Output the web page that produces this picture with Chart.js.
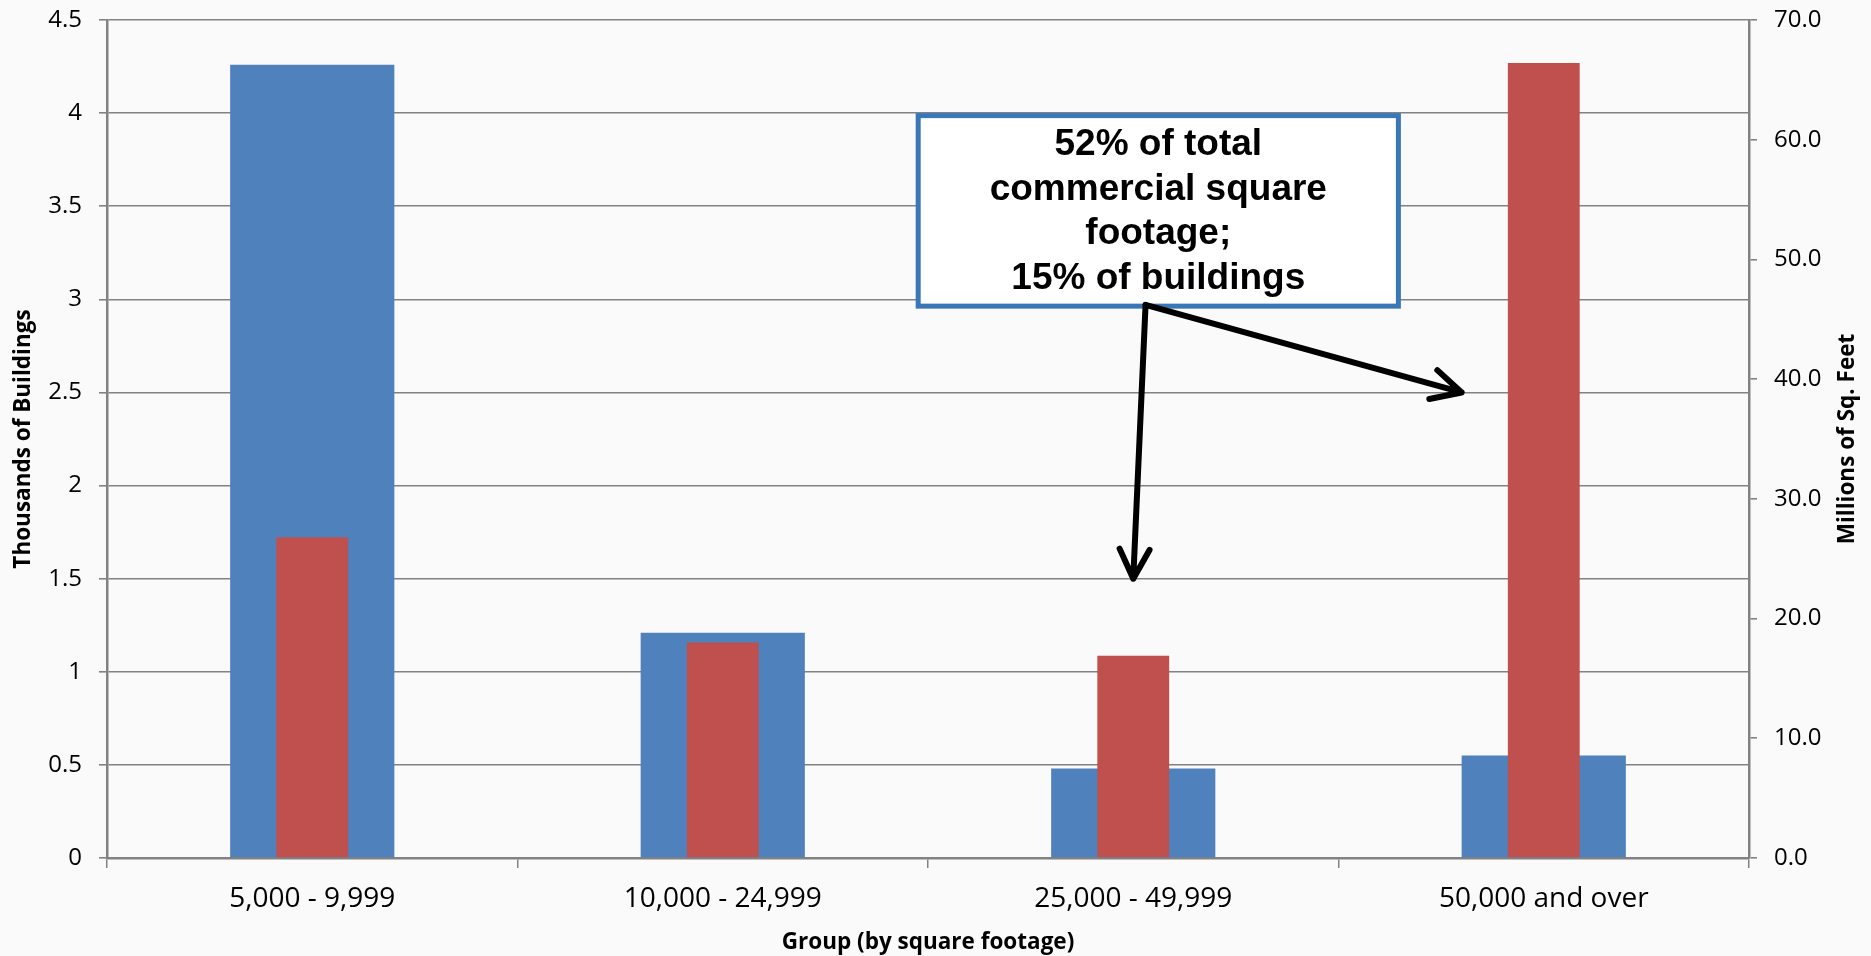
<!DOCTYPE html>
<html>
<head>
<meta charset="utf-8">
<title>Commercial buildings by size group</title>
<script src="https://cdn.jsdelivr.net/npm/chart.js@4.4.1/dist/chart.umd.min.js"></script>
<style>
  html, body { margin: 0; padding: 0; background: #fafafa; }
  canvas { display: block; }
</style>
</head>
<body>
<canvas id="sizeChart" width="1871" height="956"></canvas>
<script>
// Commercial buildings grouped by floor area
const groups = ['5,000 - 9,999', '10,000 - 24,999', '25,000 - 49,999', '50,000 and over'];
const buildings = [4.26, 1.21, 0.48, 0.55];   // thousands of buildings (left axis)
const floorArea = [26.8, 18.0, 16.9, 66.4];   // millions of sq. ft (right axis)

const leftMax = 4.5, leftStep = 0.5;
const rightMax = 70, rightStep = 10;

const calloutLines = ['52% of total', 'commercial square', 'footage;', '15% of buildings'];

// callout placement in category-index / left-axis units
const calloutBox = { x0: 1.47, x1: 2.652, yTop: 4.0, yBottom: 2.95 };
const arrowFrom = { x: 2.03, y: 2.97 };
const arrowTips = [{ x: 2.0, y: 1.5 }, { x: 2.8, y: 2.5 }];

const gridGrey = '#828282';
const tickFont = { family: 'Open Sans', size: 24 };
const titleFont = { family: 'Open Sans', size: 22.5, weight: 'bold' };

// fixed axis widths, and no extra room for the end tick labels
function fixWidth(w) {
    return scale => {
        scale.width = w;
        scale.paddingTop = 0;
        scale.paddingBottom = 0;
    };
}

function drawArrow(ctx, x0, y0, x1, y1) {
    const ang = Math.atan2(y1 - y0, x1 - x0);
    const len = 33, spread = 27 * Math.PI / 180;
    ctx.beginPath();
    ctx.moveTo(x0, y0);
    ctx.lineTo(x1, y1);
    ctx.moveTo(x1 - len * Math.cos(ang - spread), y1 - len * Math.sin(ang - spread));
    ctx.lineTo(x1, y1);
    ctx.lineTo(x1 - len * Math.cos(ang + spread), y1 - len * Math.sin(ang + spread));
    ctx.stroke();
}

const calloutPlugin = {
    id: 'callout',
    afterDraw(chart) {
        const { ctx, chartArea } = chart;
        const x = chart.scales.x, y = chart.scales.yLeft;

        // right axis title, reading bottom to top
        ctx.save();
        ctx.translate(1848, (chartArea.top + chartArea.bottom) / 2);
        ctx.rotate(-Math.PI / 2);
        ctx.font = 'bold 22.5px "Open Sans"';
        ctx.fillStyle = '#000';
        ctx.textAlign = 'center';
        ctx.textBaseline = 'middle';
        ctx.fillText('Millions of Sq. Feet', 0, 0);
        ctx.restore();

        // text box
        const bw = 5;
        const left = x.getPixelForValue(calloutBox.x0) + bw / 2;
        const right = x.getPixelForValue(calloutBox.x1) - bw / 2;
        const top = y.getPixelForValue(calloutBox.yTop) + bw / 2;
        const bottom = y.getPixelForValue(calloutBox.yBottom) - bw / 2;
        ctx.save();
        ctx.fillStyle = '#ffffff';
        ctx.fillRect(left, top, right - left, bottom - top);
        ctx.lineWidth = bw;
        ctx.strokeStyle = '#3a77b6';
        ctx.strokeRect(left, top, right - left, bottom - top);

        ctx.fillStyle = '#000';
        ctx.font = 'bold 37px "Liberation Sans", Arial, sans-serif';
        ctx.textAlign = 'center';
        ctx.textBaseline = 'middle';
        const lh = 44.5;
        const cx = (left + right) / 2;
        const cy = (top + bottom) / 2 + 1;
        calloutLines.forEach((line, i) => {
            ctx.fillText(line, cx, cy + (i - (calloutLines.length - 1) / 2) * lh);
        });

        // arrows
        ctx.strokeStyle = '#000';
        ctx.lineWidth = 6;
        ctx.lineCap = 'round';
        ctx.lineJoin = 'round';
        const fx = x.getPixelForValue(arrowFrom.x), fy = y.getPixelForValue(arrowFrom.y);
        arrowTips.forEach(t => {
            drawArrow(ctx, fx, fy, x.getPixelForValue(t.x), y.getPixelForValue(t.y));
        });
        ctx.restore();
    }
};

new Chart(document.getElementById('sizeChart'), {
    type: 'bar',
    data: {
        labels: groups,
        datasets: [
            {
                label: 'Thousands of Buildings',
                data: buildings,
                yAxisID: 'yLeft',
                backgroundColor: '#4f81bd',
                grouped: false,
                categoryPercentage: 1,
                barPercentage: 0.4,
                order: 2
            },
            {
                label: 'Millions of Sq. Feet',
                data: floorArea,
                yAxisID: 'yRight',
                backgroundColor: '#c0504d',
                grouped: false,
                categoryPercentage: 1,
                barPercentage: 0.175,
                order: 1
            }
        ]
    },
    options: {
        responsive: false,
        animation: false,
        layout: { padding: { top: 20, bottom: 0, left: 0, right: 0 } },
        plugins: {
            legend: { display: false },
            tooltip: { enabled: false }
        },
        scales: {
            x: {
                grid: { offset: true, drawOnChartArea: false, color: gridGrey, lineWidth: 1.5, tickLength: 10 },
                border: { color: gridGrey, width: 2.5 },
                ticks: { color: '#000', font: { family: 'Open Sans', size: 28 }, padding: 14, maxRotation: 0, autoSkip: false },
                title: { display: true, text: 'Group (by square footage)', color: '#000', font: titleFont, padding: { top: 0, bottom: 0 } },
                afterFit(scale) { scale.height = 98; }
            },
            yLeft: {
                position: 'left',
                min: 0,
                max: leftMax,
                grid: { color: gridGrey, lineWidth: 1.6, tickLength: 8 },
                border: { color: gridGrey, width: 2.5 },
                ticks: {
                    stepSize: leftStep,
                    color: '#000',
                    font: tickFont,
                    padding: 17,
                    callback: v => String(Math.round(v * 10) / 10)
                },
                title: { display: true, text: 'Thousands of Buildings', color: '#000', font: titleFont, padding: { top: 10, bottom: 0 } },
                afterFit: fixWidth(107)
            },
            yRight: {
                position: 'right',
                min: 0,
                max: rightMax,
                grid: { drawOnChartArea: false, color: gridGrey, lineWidth: 1.6, tickLength: 8 },
                border: { color: gridGrey, width: 2.5 },
                ticks: {
                    stepSize: rightStep,
                    color: '#000',
                    font: tickFont,
                    padding: 17,
                    callback: v => v.toFixed(1)
                },
                afterFit: fixWidth(122)
            }
        }
    },
    plugins: [calloutPlugin]
});
</script>
</body>
</html>
